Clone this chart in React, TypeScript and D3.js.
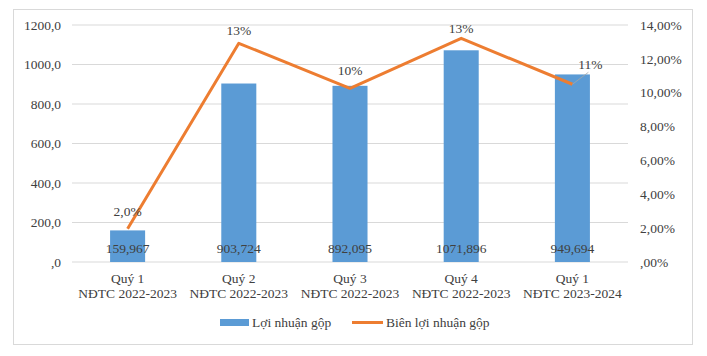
import React from "react";
import * as d3 from "d3";

const quarters = ["Quý 1", "Quý 2", "Quý 3", "Quý 4", "Quý 1"];
const fiscalYears = ["NĐTC 2022-2023", "NĐTC 2022-2023", "NĐTC 2022-2023", "NĐTC 2022-2023", "NĐTC 2023-2024"];
const grossProfit = [159.967, 903.724, 892.095, 1071.896, 949.694];
const grossProfitLabels = ["159,967", "903,724", "892,095", "1071,896", "949,694"];
const grossMargin = [0.0196, 0.1292, 0.1026, 0.1321, 0.105];
const marginLabels = ["2,0%", "13%", "10%", "13%", "11%"];
const leftTicks = [0, 200, 400, 600, 800, 1000, 1200];
const rightTicks = [0, 0.02, 0.04, 0.06, 0.08, 0.1, 0.12, 0.14];

// label placement relative to each margin point (dx, dy in px)
const marginLabelOffset: [number, number][] = [
  [0, -18],
  [0, -13],
  [0, -18],
  [0, -10],
  [18, -20],
];

const W = 707;
const H = 356;
const plot = { left: 72, right: 628, top: 25, bottom: 262 };
const FONT = "'Liberation Serif', 'Times New Roman', serif";
const TEXT = "#404040";
const BLUE = "#5b9bd5";
const ORANGE = "#ed7d31";
const GRID = "#d9d9d9";

const fmtLeft = (v: number) => (v === 0 ? ",0" : `${v},0`);
const fmtRight = (v: number) => {
  const s = (v * 100).toFixed(2).replace(".", ",");
  return (v === 0 ? ",00" : s) + "%";
};

export default function App() {
  const idx = d3.range(quarters.length).map(String);
  const x = d3.scaleBand<string>().domain(idx).range([plot.left, plot.right]);
  const yL = d3.scaleLinear().domain([0, 1200]).range([plot.bottom, plot.top]);
  const yR = d3.scaleLinear().domain([0, 0.14]).range([plot.bottom, plot.top]);
  const barW = x.bandwidth() * 0.315;
  const cx = (i: number) => (x(String(i)) as number) + x.bandwidth() / 2;

  const line = d3
    .line<number>()
    .x((_, i) => cx(i))
    .y((d) => yR(d));

  return (
    <svg
      width={W}
      height={H}
      style={{ position: "absolute", left: 0, top: 0, background: "#fff" }}
      fontFamily={FONT}
    >
      <rect x={13.5} y={9.5} width={679} height={335} fill="#fff" stroke={GRID} strokeWidth={1} />

      {leftTicks.map((t) => (
        <line key={t} x1={plot.left} x2={plot.right} y1={yL(t)} y2={yL(t)} stroke={GRID} strokeWidth={1} />
      ))}

      {leftTicks.map((t) => (
        <text key={"l" + t} x={61} y={yL(t)} dy="0.35em" textAnchor="end" fontSize={13.5} fill={TEXT}>
          {fmtLeft(t)}
        </text>
      ))}
      {rightTicks.map((t) => (
        <text key={"r" + t} x={640} y={yR(t)} dy="0.35em" textAnchor="start" fontSize={13.5} fill={TEXT}>
          {fmtRight(t)}
        </text>
      ))}

      {grossProfit.map((v, i) => (
        <rect key={"b" + i} x={cx(i) - barW / 2} y={yL(v)} width={barW} height={yL(0) - yL(v)} fill={BLUE} />
      ))}

      {grossProfit.map((_, i) => (
        <text key={"bl" + i} x={cx(i)} y={248} dy="0.35em" textAnchor="middle" fontSize={13.5} fill={TEXT}>
          {grossProfitLabels[i]}
        </text>
      ))}

      <path d={line(grossMargin) as string} fill="none" stroke={ORANGE} strokeWidth={3} strokeLinejoin="round" />

      {/* leader line for the offset last label */}
      <line
        x1={cx(4)}
        y1={yR(grossMargin[4])}
        x2={cx(4) + marginLabelOffset[4][0] - 2}
        y2={yR(grossMargin[4]) + marginLabelOffset[4][1] + 8}
        stroke="#a6a6a6"
        strokeWidth={0.8}
      />

      {grossMargin.map((v, i) => (
        <text
          key={"ml" + i}
          x={cx(i) + marginLabelOffset[i][0]}
          y={yR(v) + marginLabelOffset[i][1]}
          dy="0.35em"
          textAnchor="middle"
          fontSize={13.5}
          fill={TEXT}
        >
          {marginLabels[i]}
        </text>
      ))}

      {quarters.map((q, i) => (
        <g key={"c" + i}>
          <text x={cx(i)} y={278} dy="0.35em" textAnchor="middle" fontSize={13.5} fill={TEXT}>
            {q}
          </text>
          <text x={cx(i)} y={293} dy="0.35em" textAnchor="middle" fontSize={13.5} fill={TEXT}>
            {fiscalYears[i]}
          </text>
        </g>
      ))}

      {/* legend */}
      <rect x={220} y={319} width={29} height={7} fill={BLUE} />
      <text x={252} y={322.5} dy="0.35em" fontSize={13.5} fill={TEXT}>
        Lợi nhuận gộp
      </text>
      <line x1={352} x2={383} y1={322.5} y2={322.5} stroke={ORANGE} strokeWidth={3} />
      <text x={386} y={322.5} dy="0.35em" fontSize={13.5} fill={TEXT}>
        Biên lợi nhuận gộp
      </text>
    </svg>
  );
}
